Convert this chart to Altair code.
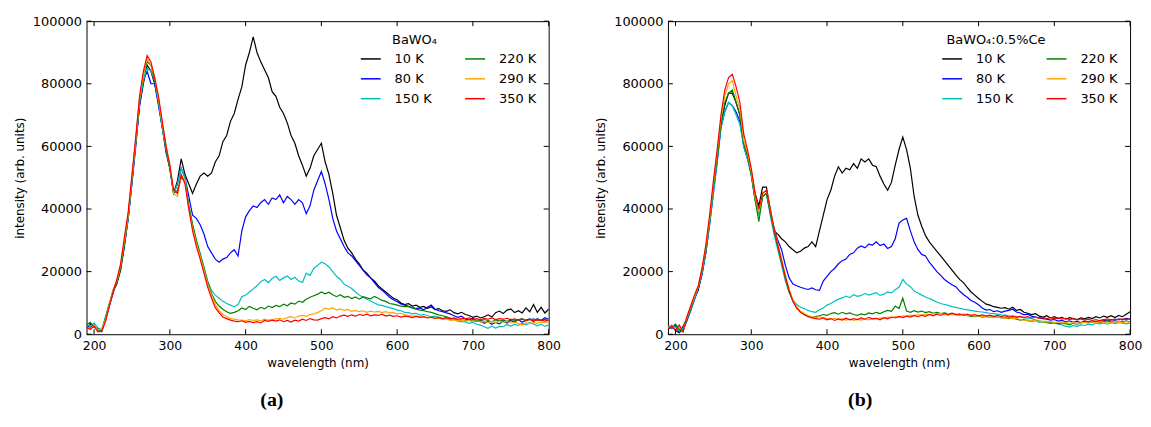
import altair as alt
import pandas as pd

# wavelength grid (nm)
wavelength = list(range(190, 801, 5))
temps = ["10 K", "80 K", "150 K", "220 K", "290 K", "350 K"]
colors = ["#000000", "#0000ff", "#00bfbf", "#008000", "#ffa500", "#ff0000"]
x_ticks = [200, 300, 400, 500, 600, 700, 800]
y_ticks = [0, 20000, 40000, 60000, 80000, 100000]

# ---- panel (a) BaWO4, intensity in units of 1000 ----
a_10K = [2.0, 3.1, 2.4, 1.5, 1.0, 4.8, 9.0, 13.8, 16.0, 20.5,
         28, 37, 49, 61, 73, 80, 86, 84, 80, 74,
         66, 58, 53, 45, 49, 56, 51, 48, 45, 48,
         50.5, 51.5, 50.5, 51.5, 55, 57, 61.5, 63.5, 68, 70.5,
         75, 79, 86, 90, 95, 90, 87, 84.5, 82, 77.5,
         76, 72.5, 70.5, 67.5, 63.5, 61, 57, 54, 50.5, 53,
         57, 59, 61, 55, 51, 45, 38, 34, 30, 27.5,
         26, 24, 22.5, 20.5, 19.5, 18, 17, 15.5, 14.5, 13.5,
         12.5, 11.5, 11, 10, 9.5, 9.8, 9.0, 9.3, 8.6, 8.9,
         8.3, 8.8, 7.9, 8.2, 7.5, 7.3, 7.8, 6.9, 6.5, 7.0,
         6.3, 6.0, 5.4, 5.8, 5.2, 5.6, 6.2, 5.5, 6.9, 7.4,
         6.6, 7.7, 8.1, 6.9, 7.5, 6.8, 8.4, 7.2, 9.5, 7.0,
         8.6, 6.8, 8.0]
a_80K = [2.8, 2.2, 3.0, 1.0, 1.4, 4.5, 9.0, 13.0, 16.8, 21,
         29, 37, 48, 60, 73, 81, 84, 80, 80, 73,
         66, 59, 53, 45, 48, 53, 50, 44, 38, 37,
         35, 32, 28, 26, 24, 23, 24, 24.5, 26, 27,
         25, 33, 37.5, 39.5, 41, 40.5, 42, 43, 41.5, 43.5,
         43, 44.5, 42, 44, 43, 41.5, 43, 42, 38.5, 41,
         46, 49, 52, 48, 43, 37, 33, 30.5, 28, 26,
         25, 23.5, 22, 20.5, 19, 18, 16.5, 15, 14, 13,
         11.8, 11, 10.4, 9.7, 9.3, 8.9, 8.5, 8.2, 8.4, 7.8,
         8.6, 9.3, 8.0, 7.5, 7.2, 6.8, 6.5, 5.9, 5.4, 5.8,
         4.9, 4.5, 5.2, 4.0, 4.3, 3.5, 4.1, 3.2, 3.8, 3.3,
         4.2, 3.6, 4.4, 3.9, 4.7, 3.8, 4.5, 4.9, 4.1, 5.0,
         4.4, 5.3, 4.8]
a_150K = [3.2, 2.5, 3.6, 2.0, 1.5, 5.5, 9.8, 13.5, 17, 21.5,
          29, 37, 49, 61, 74, 81, 85, 84, 81, 74,
          66, 59, 53, 45, 48, 53, 50, 41, 35, 30,
          26, 21.5, 17, 14, 12.5, 11.5, 10.5, 9.8, 9.3, 8.8,
          9.5, 12, 12.5, 13.5, 14.5, 15.5, 16.8, 17.5, 16.5, 17.8,
          18.5, 17.2, 18, 18.6, 17.5, 18.2, 17.0, 16.5, 19.5, 18.8,
          21, 22, 23, 22.5, 21.5, 20, 18.5, 17.5, 16, 15.3,
          14.6, 13.5, 12.5, 11.8, 11.2, 10.6, 10.0, 9.4, 9.2, 8.8,
          8.5, 8.2, 7.7, 7.5, 7.0, 6.9, 6.5, 6.7, 6.1, 6.3,
          6.0, 5.6, 5.8, 5.4, 5.0, 5.3, 4.6, 4.8, 4.2, 4.0,
          3.9, 3.5, 3.8, 3.2, 2.9, 2.4, 1.9, 2.6, 2.0, 2.5,
          2.4, 3.1, 2.6, 3.2, 2.8, 3.5, 3.0, 3.7, 3.3, 2.7,
          3.2, 2.5, 3.0]
a_220K = [3.0, 3.8, 2.2, 1.8, 0.8, 5.2, 9.5, 14.0, 16.5, 21,
          29, 38, 50, 62, 75, 83, 87, 86, 81, 75,
          67, 60, 53, 45, 46, 50, 49, 41, 35, 30,
          25.5, 21, 16.5, 13, 10.5, 9.0, 8.0, 7.2, 6.7, 7.0,
          7.5, 8.4, 7.9, 8.9, 8.3, 7.8, 8.6, 8.1, 9.0, 8.5,
          9.2, 8.8, 9.6, 9.1, 10.0, 9.6, 10.6, 10.2, 11.2, 11.8,
          12.3, 12.8, 13.5, 12.9, 13.4, 12.6, 12.0, 12.6, 11.8, 12.1,
          11.4, 11.9, 11.2, 12.0, 11.6, 11.3, 12.1, 11.5, 10.8, 10.5,
          9.8, 9.6, 9.3, 9.0, 8.8, 8.9, 8.4, 8.0, 7.7, 7.5,
          7.2, 7.0, 6.6, 6.2, 5.9, 5.6, 5.2, 4.8, 4.5, 4.6,
          4.3, 4.6, 4.1, 4.5, 4.2, 4.7, 4.4, 4.0, 4.6, 4.3,
          4.5, 4.1, 4.8, 4.4, 4.6, 5.0, 4.3, 4.7, 4.9, 4.5,
          4.4, 4.8, 4.2]
a_290K = [2.4, 1.8, 2.9, 1.3, 1.6, 4.6, 9.2, 14.2, 17, 22,
          30, 38, 50, 62, 75, 83, 88, 86, 82, 75,
          67, 60, 54, 45, 44, 51, 49, 40, 34, 29,
          25, 20.5, 16, 12.5, 9.5, 7.5, 6.3, 5.6, 5.0, 4.8,
          4.6, 4.5, 4.3, 4.7, 4.4, 4.6, 4.3, 4.8, 4.5, 4.7,
          4.9, 5.1, 4.8, 5.3, 5.6, 5.2, 5.8, 6.0, 5.7, 6.3,
          6.5, 6.9, 7.5, 8.3, 8.0, 8.4, 7.7, 8.1, 7.6, 7.9,
          7.3, 7.6, 7.2, 7.5, 7.0, 7.4, 7.1, 7.3, 6.9, 7.2,
          6.8, 6.9, 6.5, 6.7, 6.2, 6.0, 5.8, 5.9, 5.5, 5.6,
          5.3, 5.4, 5.0, 5.1, 4.7, 4.9, 4.5, 4.6, 4.3, 4.5,
          4.2, 4.4, 4.0, 4.3, 3.9, 4.1, 3.7, 4.0, 3.8, 4.2,
          3.9, 4.1, 3.6, 3.9, 3.4, 3.0, 3.6, 3.3, 3.8, 3.5,
          3.9, 3.6, 4.1]
a_350K = [2.2, 1.5, 2.6, 0.8, 1.0, 4.0, 8.8, 13.5, 17.5, 22.5,
          31, 39, 51, 63, 76, 84, 89, 87, 82, 76,
          68, 60, 54, 46, 45, 51, 48, 40, 33, 28,
          24, 19.5, 15, 11.5, 8.5, 6.8, 5.5, 5.0, 4.5, 4.2,
          4.0, 4.3, 3.8, 4.1, 3.7, 4.0, 3.6, 4.4, 4.1, 4.5,
          4.2, 4.6, 4.0, 4.4, 3.9, 4.5, 4.2, 4.8, 4.4, 5.0,
          4.6, 4.5, 5.0, 5.3, 4.9, 5.6, 5.2, 5.8, 6.1, 5.7,
          6.2, 5.8, 6.3, 6.0, 6.4, 5.9, 6.2, 6.0, 6.4, 5.8,
          6.1, 5.7, 5.9, 5.5, 5.8, 5.6, 5.3, 5.7, 5.4, 5.6,
          5.2, 5.5, 5.1, 5.4, 5.0, 5.3, 4.9, 5.2, 4.8, 5.1,
          4.9, 5.2, 4.7, 5.0, 4.6, 5.1, 4.8, 5.2, 4.7, 5.0,
          4.8, 5.1, 4.6, 4.9, 4.5, 4.8, 4.4, 4.7, 4.3, 4.6,
          4.5, 4.2, 4.6]

# ---- panel (b) BaWO4:0.5%Ce, intensity in units of 1000 ----
b_10K = [1.5, 2.8, 1.2, 0.5, 2.5, 5.0, 8.0, 11.5, 14.0, 19.5,
         26, 36, 47, 56, 67, 73, 77, 77, 74, 70,
         61, 57, 52, 45, 41, 47, 47, 40, 33, 32,
         30.5, 29.5, 28, 27, 26, 26.5, 27.5, 28, 29.5, 28,
         33, 38, 43, 46, 50.5, 53.5, 51.5, 53, 52.5, 54.5,
         53, 56, 55, 56, 54, 53.5, 50.5, 48, 46, 48.5,
         54, 59, 63, 59, 53, 44, 38, 34.5, 31.5, 29.5,
         28, 26.5, 25, 23.5, 22, 20.5, 19, 17.5, 16.5, 15,
         13.5, 12.5, 11.4, 10.5, 9.6, 9.3, 8.8, 8.6, 8.3, 8.5,
         8.0, 8.6, 7.6, 7.9, 7.0, 6.7, 6.3, 6.6, 5.8, 5.5,
         5.9, 5.2, 5.6, 5.0, 5.4, 4.8, 5.3, 5.0, 4.7, 5.2,
         4.9, 5.4, 5.0, 5.6, 5.2, 5.8, 5.4, 5.9, 5.3, 6.0,
         5.6, 6.4, 7.2]
b_80K = [2.3, 1.8, 2.6, 0.6, 1.5, 4.2, 7.5, 11, 14.5, 19,
         26, 35, 45, 55, 66, 71, 74, 73, 71, 68,
         60, 56, 51, 43, 39, 44, 45, 39, 34, 30,
         27, 22, 18, 16, 15.5, 15, 14.6, 14.3, 14.8, 14.2,
         14, 17, 18.5, 20, 21, 22.5, 23.5, 24, 25.5, 26,
         27.5, 28.2, 27.6, 28.8, 28.5, 29.5, 28.3, 28.8, 27.4, 28.0,
         30.5, 35.5, 36.5, 37, 33, 29.5, 27, 25.5, 25, 23,
         21.5, 20, 18.8, 17.5, 16.6, 15.8, 15.2, 13.8, 12.7, 11.8,
         10.8, 10.2, 9.4, 8.4, 7.7, 7.9, 7.2, 7.5, 7.0, 7.4,
         7.6, 8.0, 7.1, 6.8, 6.2, 6.4, 5.8, 5.5, 5.2, 5.0,
         4.8, 4.5, 4.7, 4.2, 4.4, 4.0, 4.3, 3.8, 4.1, 3.7,
         4.2, 3.9, 4.3, 4.0, 4.4, 4.6, 4.1, 4.7, 4.4, 4.9,
         4.6, 5.1, 4.8]
b_150K = [2.6, 2.0, 3.0, 1.0, 2.0, 4.8, 7.8, 11.2, 14.8, 19.5,
          26, 35, 45, 55, 66, 71, 74, 73, 70, 67,
          60, 56, 51, 43, 38, 44, 45, 38, 32, 27,
          22, 17, 13.5, 11, 9.5, 8.6, 8.2, 7.6, 7.2, 7.0,
          7.8, 8.4, 9.3, 9.8, 10.6, 11.2, 11.6, 12.2, 11.7, 12.6,
          12.1, 12.4, 13.0, 12.5, 12.9, 13.3, 12.4, 12.8, 13.5, 13.2,
          14.2, 15.0, 17.5, 16.0, 15.2, 13.8, 13.2, 12.5, 11.9, 11.4,
          10.9, 10.3, 9.8, 9.5, 9.2, 8.8, 8.6, 8.3, 8.0, 7.8,
          7.6, 7.4, 7.2, 7.1, 6.9, 6.7, 6.6, 6.4, 6.2, 6.1,
          5.9, 5.8, 5.6, 5.5, 5.3, 5.1, 5.0, 4.6, 4.3, 4.0,
          4.1, 3.7, 3.5, 3.3, 3.0, 2.6, 2.3, 2.8, 2.5, 3.0,
          2.8, 3.2, 3.0, 3.5, 3.3, 3.6, 3.2, 3.7, 3.4, 3.8,
          3.5, 3.3, 3.6]
b_220K = [2.8, 2.2, 3.2, 1.6, 0.8, 5.0, 8.2, 11.8, 15.0, 20.5,
          27, 36, 47, 56, 67, 74, 77, 78, 74, 70,
          61, 57, 51, 43, 36, 44, 45, 39, 33, 28,
          23, 18, 13.5, 10.5, 8.5, 7.2, 6.3, 5.8, 5.4, 5.6,
          5.9, 6.3, 6.0, 6.6, 6.9, 6.4, 7.0, 6.5, 6.8, 6.3,
          6.0, 6.5, 6.2, 6.8, 6.5, 7.0, 6.6, 7.2, 7.6, 7.3,
          9.0, 8.2, 11.5, 7.4, 7.0, 7.5, 7.1, 7.4, 6.9, 7.2,
          6.7, 7.0, 6.6, 6.8, 6.5, 6.7, 6.3, 6.1, 6.4, 5.9,
          5.8, 5.6, 5.9, 5.5, 5.7, 5.4, 5.6, 5.5, 5.2, 5.3,
          5.0, 5.2, 4.8, 4.5, 4.7, 4.3, 4.1, 4.4, 3.9, 4.0,
          3.7, 3.5, 3.8, 3.3, 3.6, 3.4, 3.0, 3.5, 3.2, 3.6,
          3.9, 4.1, 3.7, 4.2, 3.8, 4.0, 4.3, 3.9, 4.1, 3.8,
          4.0, 4.3, 3.9]
b_290K = [2.0, 3.0, 1.5, 2.4, 1.0, 5.4, 8.8, 12.0, 15.2, 20.8,
          28, 37, 48, 58, 69, 76, 80, 81, 76, 72,
          62, 58, 52, 44, 39, 45, 46, 40, 34, 29,
          24, 19, 14.5, 11, 8.8, 7.3, 6.6, 6.0, 5.6, 5.3,
          5.6, 5.2, 5.0, 4.8, 5.1, 4.7, 4.9, 4.5, 4.8, 4.4,
          4.7, 4.5, 4.9, 4.6, 5.0, 4.8, 5.2, 5.0, 5.5, 5.3,
          5.6, 5.4, 5.9, 5.7, 6.1, 5.9, 6.3, 6.0, 6.5, 6.2,
          6.6, 6.4, 6.7, 6.3, 6.6, 6.2, 6.5, 6.1, 6.3, 6.0,
          6.1, 5.8, 6.0, 5.6, 5.8, 5.4, 5.6, 5.3, 5.5, 5.1,
          5.3, 4.9, 5.1, 4.7, 4.4, 4.6, 4.2, 4.4, 4.0, 4.2,
          3.9, 4.1, 3.7, 3.9, 3.6, 3.8, 3.5, 3.7, 3.4, 3.6,
          3.8, 3.5, 3.9, 3.6, 4.0, 3.7, 3.9, 3.6, 4.1, 3.8,
          3.7, 4.0, 3.8]
b_350K = [1.8, 2.6, 1.2, 3.0, 0.8, 5.6, 9.0, 12.5, 15.5, 21,
          28.5, 38, 49, 59, 70, 78, 82, 83, 79, 74,
          64, 59, 53, 45, 40, 45, 46, 40, 34, 28.5,
          23.5, 18.5, 14, 10.5, 8.3, 7.0, 6.2, 5.6, 5.2, 5.0,
          4.8, 5.2, 4.6, 5.0, 4.4, 4.9, 4.5, 5.1, 4.6, 5.0,
          4.7, 5.2, 4.8, 5.4, 4.9, 5.1, 4.6, 5.3, 4.9, 5.5,
          5.2, 5.7, 5.3, 5.8, 5.5, 6.0, 5.6, 6.1, 5.7, 6.3,
          5.9, 6.4, 6.0, 6.6, 6.1, 6.7, 6.2, 6.5, 6.0, 6.4,
          6.0, 6.3, 5.9, 6.2, 5.8, 6.1, 5.7, 6.0, 5.6, 5.9,
          5.5, 5.8, 5.4, 5.7, 5.3, 5.6, 5.2, 5.5, 5.1, 5.4,
          5.0, 5.3, 4.9, 5.2, 4.8, 5.1, 4.7, 5.0, 4.6, 4.9,
          4.5, 4.8, 4.4, 4.7, 4.3, 4.6, 4.9, 4.5, 4.8, 4.6,
          4.9, 4.7, 5.0]

W, H = 465, 315
FONT = "DejaVu Sans"


def panel(series, legend_title, caption, caption_dx):
    rows = []
    for t, vals in zip(temps, series):
        for w, v in zip(wavelength, vals):
            rows.append({"wavelength": w, "intensity": v * 1000, "temp": t})
    df = pd.DataFrame(rows)
    xs = alt.Scale(domain=[190, 800], nice=False, zero=False)
    ys = alt.Scale(domain=[0, 100000], nice=False)
    xax = alt.Axis(values=x_ticks, title="wavelength (nm)", format="d",
                   labelFlush=False, labelFontSize=12.5)
    yax = alt.Axis(values=y_ticks, title="intensity (arb. units)", format="d",
                   labelFlush=False)

    lines = alt.Chart(df).mark_line(strokeWidth=1.2, clip=True).encode(
        x=alt.X("wavelength:Q", scale=xs, axis=xax),
        y=alt.Y("intensity:Q", scale=ys, axis=yax),
        color=alt.Color("temp:N",
                        scale=alt.Scale(domain=temps, range=colors),
                        legend=alt.Legend(orient="none", legendX=275, legendY=27,
                                          columns=2, title=None, symbolType="stroke",
                                          symbolSize=400, symbolStrokeWidth=1.5,
                                          labelFontSize=13, labelFont=FONT,
                                          labelColor="black", labelOffset=13,
                                          columnPadding=30, rowPadding=2, padding=0)),
    )

    xt = pd.DataFrame({"wavelength": x_ticks})
    yt = pd.DataFrame({"intensity": y_ticks})
    rule = dict(color="black", strokeWidth=1)
    tb = alt.Chart(xt).mark_rule(**rule).encode(
        x=alt.X("wavelength:Q", scale=xs, axis=xax), y=alt.value(H), y2=alt.value(H - 5))
    tt = alt.Chart(xt).mark_rule(**rule).encode(
        x=alt.X("wavelength:Q", scale=xs, axis=xax), y=alt.value(0), y2=alt.value(5))
    tl = alt.Chart(yt).mark_rule(**rule).encode(
        y=alt.Y("intensity:Q", scale=ys, axis=yax), x=alt.value(0), x2=alt.value(5))
    tr = alt.Chart(yt).mark_rule(**rule).encode(
        y=alt.Y("intensity:Q", scale=ys, axis=yax), x=alt.value(W), x2=alt.value(W - 5))

    ltitle = alt.Chart(pd.DataFrame({"t": [legend_title]})).mark_text(
        align="center", baseline="middle", fontSize=13, font=FONT, color="black"
    ).encode(x=alt.value(330), y=alt.value(19), text="t:N")

    return alt.layer(lines, tb, tt, tl, tr, ltitle).properties(
        width=W, height=H,
        title=alt.TitleParams(caption, orient="bottom", font="Liberation Serif",
                              fontSize=20, fontWeight="bold", color="black",
                              anchor="middle", offset=22, dx=caption_dx),
    )


pa = panel([a_10K, a_80K, a_150K, a_220K, a_290K, a_350K], "BaWO\u2084", "(a)", -46)
pb = panel([b_10K, b_80K, b_150K, b_220K, b_290K, b_350K], "BaWO\u2084:0.5%Ce", "(b)", -39)

chart = alt.hconcat(pa, pb, spacing=32).resolve_scale(color="independent").properties(
    padding={"left": 4, "top": 5, "right": 0, "bottom": 0}
).configure_view(stroke="black", strokeWidth=1).configure_axis(
    ticks=False, domain=False, grid=False,
    labelFont=FONT, labelFontSize=13, labelColor="black", labelPadding=5,
    titleFont=FONT, titleFontSize=12, titleFontWeight="normal", titleColor="black",
    titlePadding=6,
)

chart.save("out.html", embed_options={"renderer": "svg", "actions": False})
